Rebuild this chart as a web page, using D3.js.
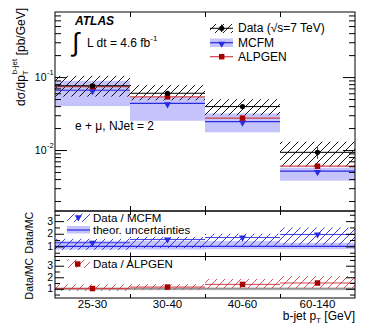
<!DOCTYPE html>
<html><head><meta charset="utf-8">
<script src="https://cdn.jsdelivr.net/npm/d3@7"></script>
<style>body{margin:0;background:#fff} svg text{font-family:"Liberation Sans",Arial,Helvetica,sans-serif}</style>
</head><body><svg id="c" width="374" height="331"></svg>
<script>
// ---- data ----
const categories = ["25-30", "30-40", "40-60", "60-140"];
const dataVal  = [0.076, 0.060, 0.0394, 0.0093];
const dataHi   = [0.104, 0.078, 0.050, 0.0130];
const dataLo   = [0.054, 0.048, 0.0301, 0.0059];
const dataStatHi = [0.078, 0.062, 0.041, 0.0114];
const dataStatLo = [0.074, 0.058, 0.038, 0.0076];
const mcfm     = [0.066, 0.0436, 0.0245, 0.00515];
const mcfmHi   = [0.089, 0.053, 0.0318, 0.00573];
const mcfmLo   = [0.040, 0.0252, 0.0175, 0.0038];
const alpgen   = [0.074, 0.0537, 0.0274, 0.0060];
const ratioMcfm   = [1.29, 1.55, 1.70, 1.94];
const ratioMcfmHi = [1.60, 1.75, 2.00, 2.50];
const ratioMcfmLo = [0.72, 0.86, 0.98, 1.10];
const theorHi = [1.45, 1.45, 1.42, 1.28];
const theorLo = [0.75, 0.75, 0.78, 0.78];
const ratioAlp   = [1.02, 1.15, 1.38, 1.50];
const ratioAlpHi = [1.39, 1.40, 1.85, 2.10];
const ratioAlpLo = [0.81, 0.88, 1.02, 1.03];
const alpUncHi = [1.12, 1.12, 1.12, 1.12];
const alpUncLo = [0.88, 0.88, 0.88, 0.88];
const mainMajorTicks = [0.01, 0.1];
const mainTickLabels = ["10", "10"], mainTickExp = ["-2", "-1"];
const ratioMajorTicks = [1, 2, 3];

// ---- layout ----
const svg = d3.select("#c");
const L = 55, R = 355;
const mT = 12, mB = 211, r1T = 211, r1B = 256.5, r2T = 256.5, r2B = 298;
const n = categories.length;
const xi = d3.scaleLinear().domain([0, n]).range([L, R]);
const xb = d3.scaleBand().domain(categories).range([L, R]).padding(0);
const y = d3.scaleLog().domain([0.00146, 0.78]).range([mB, mT]);
const y1 = d3.scaleLinear().domain([0.2, 3.8]).range([r1B, r1T]);
const y2 = d3.scaleLinear().domain([0.2, 3.8]).range([r2B, r2T]);

const BLUE = "#2a2ae0", LAV = "#c4c4fa", RED = "#d0404a", DRED = "#a80000";

const defs = svg.append("defs");
function hatch(id, color, w) {
  defs.append("pattern").attr("id", id).attr("patternUnits", "userSpaceOnUse")
    .attr("width", 8).attr("height", 8)
    .append("path").attr("d", "M-2,2 L2,-2 M0,8 L8,0 M6,10 L10,6")
    .attr("stroke", color).attr("stroke-width", w).attr("fill", "none");
}
hatch("hK", "#000", 0.9); hatch("hB", BLUE, 0.9); hatch("hR", RED, 0.9);

const idx = d3.range(n);
const tri = d3.symbol().type(d3.symbolTriangle).size(22)();
const sq = d3.symbol().type(d3.symbolSquare).size(30)();
const cx = i => xb(categories[i]) + xb.bandwidth() / 2;

// ---- main panel ----
const gm = svg.append("g");
gm.selectAll(".mb").data(idx).join("rect")
  .attr("x", i => xi(i)).attr("width", i => xi(i + 1) - xi(i))
  .attr("y", i => y(mcfmHi[i])).attr("height", i => y(mcfmLo[i]) - y(mcfmHi[i]))
  .attr("fill", LAV);
gm.selectAll(".dh").data(idx).join("rect")
  .attr("x", i => xi(i)).attr("width", i => xi(i + 1) - xi(i))
  .attr("y", i => y(dataHi[i])).attr("height", i => y(dataLo[i]) - y(dataHi[i]))
  .attr("fill", "url(#hK)");
function hlines(g, arr, sc, color, w) {
  g.append("g").selectAll("line").data(idx).join("line")
    .attr("x1", i => xi(i)).attr("x2", i => xi(i + 1))
    .attr("y1", i => sc(arr[i])).attr("y2", i => sc(arr[i]))
    .attr("stroke", color).attr("stroke-width", w);
}
hlines(gm, mcfm, y, BLUE, 1.2);
hlines(gm, alpgen, y, RED, 1.2);
hlines(gm, dataVal, y, "#000", 1);
gm.selectAll(".tm").data(idx).join("path").attr("d", tri)
  .attr("transform", i => `translate(${cx(i)},${y(mcfm[i]) + 1}) rotate(180)`)
  .attr("fill", BLUE);
gm.selectAll(".sm").data(idx).join("path").attr("d", sq)
  .attr("transform", i => `translate(${cx(i)},${y(alpgen[i])})`)
  .attr("fill", DRED);
gm.selectAll(".eb").data(idx).join("line")
  .attr("x1", cx).attr("x2", cx)
  .attr("y1", i => y(dataStatHi[i])).attr("y2", i => y(dataStatLo[i]))
  .attr("stroke", "#444").attr("stroke-width", 1);
gm.selectAll(".dm").data(idx).join("circle")
  .attr("cx", cx).attr("cy", i => y(dataVal[i])).attr("r", 2.6)
  .attr("fill", "#000");

// minor ticks of the log axis
const minors = [];
[0.001, 0.01, 0.1].forEach(d => { for (let k = 2; k <= 9; k++) { const v = k * d; if (v >= 0.00146 && v <= 0.78) minors.push(v); } });

function frame(top, bot) {
  svg.append("rect").attr("x", L).attr("y", top).attr("width", R - L).attr("height", bot - top)
    .attr("fill", "none").attr("stroke", "#000").attr("stroke-width", 1);
}
function axesY(sc, majors, minorsArr, majLen, minLen) {
  [[d3.axisLeft, L], [d3.axisRight, R]].forEach(([ax, xp]) => {
    svg.append("g").attr("transform", `translate(${xp},0)`)
      .call(ax(sc).tickValues(majors).tickSize(-majLen).tickFormat(""))
      .call(g => g.select(".domain").remove());
    svg.append("g").attr("transform", `translate(${xp},0)`)
      .call(ax(sc).tickValues(minorsArr).tickSize(-minLen).tickFormat(""))
      .call(g => g.select(".domain").remove());
  });
}
function axesX(top, bot, len) {
  svg.append("g").attr("transform", `translate(0,${bot})`)
    .call(d3.axisBottom(xi).tickValues(d3.range(1, n)).tickSize(-len).tickFormat(""))
    .call(g => g.select(".domain").remove());
  svg.append("g").attr("transform", `translate(0,${top})`)
    .call(d3.axisTop(xi).tickValues(d3.range(1, n)).tickSize(-len).tickFormat(""))
    .call(g => g.select(".domain").remove());
}
axesY(y, mainMajorTicks, minors, 12, 6);
axesX(mT, mB, 5);

// y tick labels (main)
mainMajorTicks.forEach((v, k) => {
  svg.append("text").attr("x", 46.5).attr("y", y(v) + 4).attr("text-anchor", "end")
    .attr("font-size", 10.5).text(mainTickLabels[k]);
  svg.append("text").attr("x", 47).attr("y", y(v) - 2).attr("font-size", 7.5).text(mainTickExp[k]);
});

// ---- ratio panel 1 (Data/MCFM) ----
const g1 = svg.append("g");
g1.selectAll("rect.tb").data(idx).join("rect")
  .attr("x", i => xi(i)).attr("width", i => xi(i + 1) - xi(i))
  .attr("y", i => y1(theorHi[i])).attr("height", i => y1(theorLo[i]) - y1(theorHi[i]))
  .attr("fill", LAV);
g1.append("line").attr("x1", L).attr("x2", R).attr("y1", y1(1)).attr("y2", y1(1)).attr("stroke", BLUE).attr("stroke-width", 1.2);
svg.append("g").selectAll("rect").data(idx).join("rect")
  .attr("x", i => xi(i)).attr("width", i => xi(i + 1) - xi(i))
  .attr("y", i => y1(ratioMcfmHi[i])).attr("height", i => y1(ratioMcfmLo[i]) - y1(ratioMcfmHi[i]))
  .attr("fill", "url(#hB)");
hlines(svg, ratioMcfm, y1, BLUE, 0.9);
svg.append("g").selectAll("path").data(idx).join("path").attr("d", tri)
  .attr("transform", i => `translate(${cx(i)},${y1(ratioMcfm[i])}) rotate(180)`)
  .attr("fill", BLUE);

// ---- ratio panel 2 (Data/ALPGEN) ----
const g2 = svg.append("g");
g2.selectAll("rect").data(idx).join("rect")
  .attr("x", i => xi(i)).attr("width", i => xi(i + 1) - xi(i))
  .attr("y", i => y2(alpUncHi[i])).attr("height", i => y2(alpUncLo[i]) - y2(alpUncHi[i]))
  .attr("fill", "#bdbdbd");
g2.append("line").attr("x1", L).attr("x2", R).attr("y1", y2(1)).attr("y2", y2(1)).attr("stroke", "#888").attr("stroke-width", 1);
svg.append("g").selectAll("rect").data(idx).join("rect")
  .attr("x", i => xi(i)).attr("width", i => xi(i + 1) - xi(i))
  .attr("y", i => y2(ratioAlpHi[i])).attr("height", i => y2(ratioAlpLo[i]) - y2(ratioAlpHi[i]))
  .attr("fill", "url(#hR)");
hlines(svg, ratioAlp, y2, RED, 1);
svg.append("g").selectAll("path").data(idx).join("path").attr("d", sq)
  .attr("transform", i => `translate(${cx(i)},${y2(ratioAlp[i])})`)
  .attr("fill", DRED);

const rMinor = [0.5, 1.5, 2.5, 3.5];
[[y1, r1T, r1B], [y2, r2T, r2B]].forEach(([sc, t, b]) => {
  axesY(sc, ratioMajorTicks, rMinor, 9, 5);
  axesX(t, b, 4);
  ratioMajorTicks.forEach(v => {
    svg.append("text").attr("x", 53).attr("y", sc(v) + 3.7).attr("text-anchor", "end")
      .attr("font-size", 10.5).text(v);
  });
});

frame(mT, mB); frame(r1T, r1B); frame(r2T, r2B);

// x category labels
svg.append("g").attr("transform", `translate(0,${r2B})`)
  .call(d3.axisBottom(xb).tickSize(0).tickPadding(2))
  .call(g => g.select(".domain").remove())
  .call(g => g.selectAll("text").attr("font-size", 11.5).attr("fill", "#000")
        .attr("font-family", '"Liberation Sans",Arial,sans-serif'));

// ---- titles ----
const yt = svg.append("text").attr("transform", "translate(25,8) rotate(-90)")
  .attr("text-anchor", "end").attr("font-size", 12);
yt.append("tspan").text("dσ/dp");
yt.append("tspan").attr("font-size", 8).attr("dy", 3).text("T");
yt.append("tspan").attr("font-size", 8).attr("dx", -4).attr("dy", -11).text("b-jet");
yt.append("tspan").attr("dy", 8).text(" [pb/GeV]");

svg.append("text").attr("transform", `translate(33,212) rotate(-90)`).attr("text-anchor", "end")
  .attr("font-size", 10.5).text("Data/MC");
svg.append("text").attr("transform", `translate(33,258) rotate(-90)`).attr("text-anchor", "end")
  .attr("font-size", 10.5).text("Data/MC");

const xt = svg.append("text").attr("x", R).attr("y", 320).attr("text-anchor", "end").attr("font-size", 12);
xt.append("tspan").text("b-jet p");
xt.append("tspan").attr("font-size", 8).attr("dy", 3).text("T");
xt.append("tspan").attr("dy", -3).text(" [GeV]");

// ATLAS labels
svg.append("text").attr("x", 75).attr("y", 24.5).attr("font-size", 12).attr("font-weight", "bold")
  .attr("font-style", "italic").text("ATLAS");
svg.append("text").attr("x", 72).attr("y", 51).attr("font-size", 26).attr("font-family", '"DejaVu Sans"')
  .attr("font-weight", 200).text("∫");
const lum = svg.append("text").attr("x", 87).attr("y", 46.7).attr("font-size", 12);
lum.append("tspan").text("L dt = 4.6 fb");
lum.append("tspan").attr("font-size", 8).attr("dy", -6).text("-1");
svg.append("text").attr("x", 75).attr("y", 130).attr("font-size", 12).text("e + μ, NJet = 2");

// ---- main legend ----
const lx0 = 210, lx1 = 233, lxc = 221.7;
svg.append("rect").attr("x", lx0).attr("y", 24).attr("width", lx1 - lx0).attr("height", 9).attr("fill", "url(#hK)");
svg.append("line").attr("x1", lx0).attr("x2", lx1).attr("y1", 28.3).attr("y2", 28.3).attr("stroke", "#000");
svg.append("line").attr("x1", lxc).attr("x2", lxc).attr("y1", 24.5).attr("y2", 32).attr("stroke", "#000");
svg.append("circle").attr("cx", lxc).attr("cy", 28.3).attr("r", 2.6).attr("fill", "#000");
svg.append("text").attr("x", 238).attr("y", 32).attr("font-size", 12).text("Data (√s=7 TeV)");
svg.append("rect").attr("x", lx0).attr("y", 38.5).attr("width", lx1 - lx0).attr("height", 8.5).attr("fill", LAV);
svg.append("line").attr("x1", lx0).attr("x2", lx1).attr("y1", 42.7).attr("y2", 42.7).attr("stroke", BLUE).attr("stroke-width", 1.2);
svg.append("path").attr("d", tri).attr("transform", `translate(${lxc},43.7) rotate(180)`).attr("fill", BLUE);
svg.append("text").attr("x", 238).attr("y", 46.7).attr("font-size", 12).text("MCFM");
svg.append("line").attr("x1", lx0).attr("x2", lx1).attr("y1", 56.7).attr("y2", 56.7).attr("stroke", RED).attr("stroke-width", 1.2);
svg.append("path").attr("d", sq).attr("transform", `translate(${lxc},56.7)`).attr("fill", DRED);
svg.append("text").attr("x", 238).attr("y", 60.7).attr("font-size", 12).text("ALPGEN");

// ---- ratio legends ----
svg.append("rect").attr("x", 67).attr("y", 213.5).attr("width", 23).attr("height", 8.5).attr("fill", "url(#hB)");
svg.append("path").attr("d", tri).attr("transform", `translate(78.3,217.3) rotate(180)`).attr("fill", BLUE);
svg.append("text").attr("x", 93).attr("y", 221.5).attr("font-size", 11.5).text("Data / MCFM");
svg.append("rect").attr("x", 67).attr("y", 226).attr("width", 23).attr("height", 7.5).attr("fill", LAV);
svg.append("line").attr("x1", 67).attr("x2", 90).attr("y1", 230).attr("y2", 230).attr("stroke", BLUE).attr("stroke-width", 1.2);
svg.append("text").attr("x", 93).attr("y", 234).attr("font-size", 11.5).text("theor. uncertainties");
svg.append("rect").attr("x", 67).attr("y", 259.5).attr("width", 23).attr("height", 8.5).attr("fill", "url(#hR)");
svg.append("path").attr("d", sq).attr("transform", `translate(77.7,264)`).attr("fill", DRED);
svg.append("text").attr("x", 93).attr("y", 268.3).attr("font-size", 11.5).text("Data / ALPGEN");
</script></body></html>
